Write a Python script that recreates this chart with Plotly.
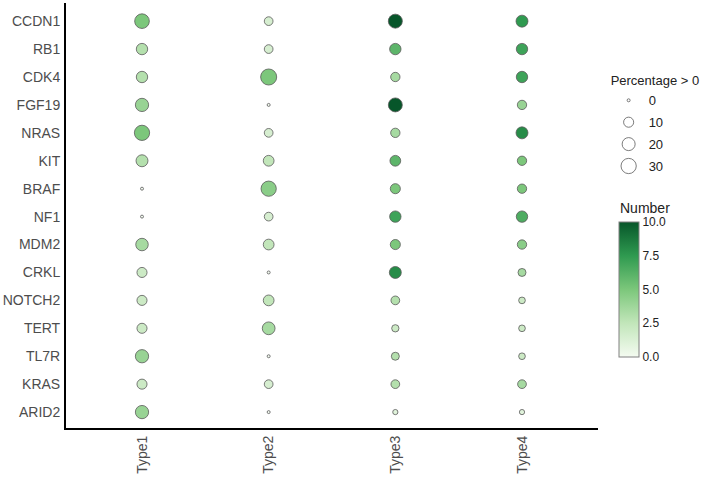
import plotly.graph_objects as go
import numpy as np

genes = ['CCDN1', 'RB1', 'CDK4', 'FGF19', 'NRAS', 'KIT', 'BRAF', 'NF1',
         'MDM2', 'CRKL', 'NOTCH2', 'TERT', 'TL7R', 'KRAS', 'ARID2']
types = ['Type1', 'Type2', 'Type3', 'Type4']

# percentage of samples > 0, per type (gene order as above)
pct_type1 = [27, 14, 14, 21, 30, 16, 0, 0, 18, 10, 10, 10, 21, 10, 21]
pct_type2 = [6.5, 6.5, 34, 0, 6.5, 12, 30, 6.5, 12, 0, 12, 19, 0, 6.5, 0]
pct_type3 = [24, 14, 8, 24, 8, 12, 10, 14, 10, 16, 6.5, 3.7, 5, 6.5, 1]
pct_type4 = [16, 14, 14, 8, 16, 8, 8, 14, 8, 5, 2.7, 2.7, 2.7, 6.5, 1]

# number of samples, per type
num_type1 = [5, 3, 3, 4, 5, 3, 0, 0, 3.5, 2, 2, 2, 4, 2, 4]
num_type2 = [1.5, 1.5, 5, 0, 1.5, 2.5, 4.5, 1.5, 2.5, 0, 2.5, 3.5, 0, 1.5, 0]
num_type3 = [10, 6, 3.5, 10, 3.5, 6, 5, 7, 5, 8, 3, 2, 3, 3, 1]
num_type4 = [7.5, 7, 7, 4, 8, 5, 5, 6.5, 4.5, 3.5, 2, 2, 2, 3.5, 1]

legend_pct = [0, 10, 20, 30]
cbar_ticks = [0, 2.5, 5, 7.5, 10]

pct = [pct_type1, pct_type2, pct_type3, pct_type4]
num = [num_type1, num_type2, num_type3, num_type4]

xs, ys, ps, ns = [], [], [], []
for t, pcol, ncol in zip(types, pct, num):
    for g, p, n in zip(genes, pcol, ncol):
        xs.append(t)
        ys.append(g)
        ps.append(p)
        ns.append(n)


def dot_size(p):
    # area-like size scale, as in ggplot scale_size
    return 3 + 2.24 * np.sqrt(np.asarray(p, dtype=float))


greens = [[0, '#f4fbf1'], [0.25, '#c2e6ba'], [0.5, '#7cc77b'],
          [0.75, '#2f9a50'], [1, '#07562a']]

fig = go.Figure()
fig.add_trace(go.Scatter(
    x=xs, y=ys, mode='markers', showlegend=False,
    marker=dict(
        size=dot_size(ps), color=ns, cmin=0, cmax=10, opacity=1,
        colorscale=greens,
        line=dict(color='#5a5a5a', width=0.8),
        colorbar=dict(
            x=1.039, xanchor='left', y=0.326, yanchor='middle',
            len=135, lenmode='pixels', thickness=20, ypad=0, xpad=0,
            tickvals=cbar_ticks, tickformat='.1f',
            ticks='', tickfont=dict(size=12, color='#222'),
            outlinecolor='#808080', outlinewidth=1,
        ),
    ),
))

# size legend: one group per entry so tracegroupgap spaces them out
for p in legend_pct:
    fig.add_trace(go.Scatter(
        x=[None], y=[None], mode='markers', name=str(p),
        legendgroup='p%s' % p,
        marker=dict(size=float(dot_size(p)), color='white',
                    line=dict(color='#5a5a5a', width=0.8)),
    ))

fig.add_annotation(
    text='Number', xref='paper', yref='paper', x=1.038, y=0.494,
    xanchor='left', yanchor='bottom', showarrow=False,
    font=dict(size=14, color='#222'),
)

fig.update_layout(
    width=709, height=477,
    margin=dict(l=66, r=111, t=3, b=49, autoexpand=False),
    paper_bgcolor='white', plot_bgcolor='white',
    font=dict(family='Liberation Sans, Arial, sans-serif', color='#444'),
    legend=dict(
        title=dict(text='Percentage > 0', font=dict(size=13, color='#222')),
        x=1.02, xanchor='left', y=0.846, yanchor='top',
        font=dict(size=13, color='#222'), itemsizing='trace',
        tracegroupgap=2,
    ),
    xaxis=dict(
        type='category', categoryorder='array', categoryarray=types,
        range=[-0.6, 3.6], showgrid=False, zeroline=False,
        showline=True, linecolor='black', linewidth=2, automargin=False,
        ticks='', tickangle=-90, tickfont=dict(size=14, color='#4d4d4d'),
    ),
    yaxis=dict(
        type='category', categoryorder='array', categoryarray=genes,
        range=[14.57, -0.65], showgrid=False, zeroline=False,
        showline=True, linecolor='black', linewidth=2, automargin=False,
        ticks='', ticklabelstandoff=1,
        tickfont=dict(size=14, color='#4d4d4d'),
    ),
)

fig.write_html('out.html', config={'displayModeBar': False},
               post_script="document.body.style.margin='0';")
